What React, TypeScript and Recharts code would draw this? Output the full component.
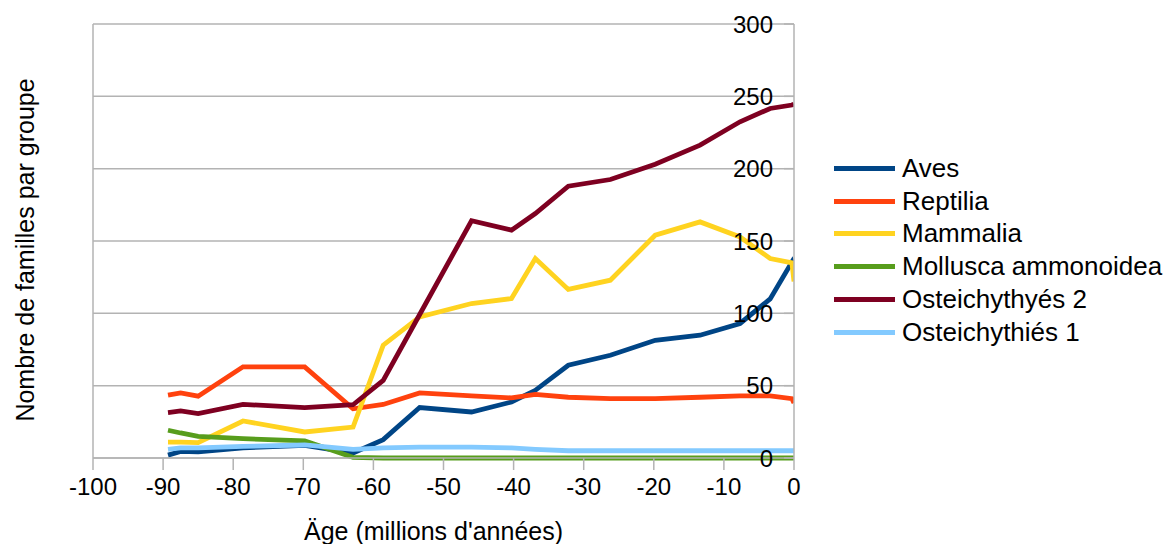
import {
  LineChart,
  Line,
  XAxis,
  YAxis,
  CartesianGrid,
  ReferenceLine,
  Label,
} from "recharts";

const FONT = "'Liberation Sans', Arial, sans-serif";

// âge en millions d'années (négatif = passé)
const ages = [
  -89.3, -87.5, -85.0, -78.6, -69.8, -62.9, -58.6, -53.4, -46.0, -40.3, -36.9,
  -32.2, -26.2, -19.8, -13.4, -7.7, -3.4, -0.3, 0,
];

const aves = [
  2, 4.6, 4.2, 7, 8.8, 3.5, 12.7, 34.9, 31.8, 38.7, 46.8, 64.1, 71, 81.4, 84.9,
  93, 110, 135.5, 131,
];
const reptilia = [
  43.4, 45, 42.7, 63, 63, 34, 37, 45, 43, 41.5, 44, 42, 41, 41, 42, 43, 43, 41,
  38,
];
const mammalia = [
  11, 11, 10.6, 25.6, 18, 21.4, 78, 97.5, 106.8, 110.2, 137.9, 116.5, 122.9, 154,
  163.2, 152.8, 137.9, 134.9, 122,
];
const mollusca = [
  19.2, 17.3, 15, 13.4, 11.8, 0.5, 0, 0, 0, 0, 0, 0, 0, 0, 0, 0, 0, 0, 0,
];
const osteichthyes2 = [
  31.4, 32.5, 30.7, 37.1, 34.8, 36.8, 53.7, 99.2, 164, 157.5, 169, 187.9, 192.5,
  203.1, 216.3, 232.4, 241.6, 244, 244.6,
];
const osteichthyes1 = [
  6, 7, 7, 8, 9, 6, 7, 7.5, 7.5, 7, 6, 5, 5, 5, 5, 5, 5, 5, 5,
];

const xTicks = [-100, -90, -80, -70, -60, -50, -40, -30, -20, -10, 0];
const yTicks = [0, 50, 100, 150, 200, 250, 300];

const series = [
  { key: "aves", name: "Aves", color: "#004586", values: aves },
  { key: "reptilia", name: "Reptilia", color: "#ff420e", values: reptilia },
  { key: "mammalia", name: "Mammalia", color: "#ffd320", values: mammalia },
  { key: "mollusca", name: "Mollusca ammonoidea", color: "#579d1c", values: mollusca },
  { key: "ost2", name: "Osteichythyés 2", color: "#7e0021", values: osteichthyes2 },
  { key: "ost1", name: "Osteichythiés 1", color: "#83caff", values: osteichthyes1 },
];

const data = ages.map((age, i) => {
  const row: Record<string, number> = { age };
  series.forEach((s) => {
    row[s.key] = s.values[i];
  });
  return row;
});

const tickStyle = { fontSize: 24, fill: "#000", fontFamily: FONT };

export default function App() {
  return (
    <div
      style={{
        position: "absolute",
        left: 0,
        top: 0,
        width: 1168,
        height: 544,
        background: "#fff",
        fontFamily: FONT,
      }}
    >
      <LineChart
        width={1168}
        height={544}
        data={data}
        margin={{ top: 24, right: 374, left: 93, bottom: 0 }}
      >
        <CartesianGrid vertical={false} stroke="#b3b3b3" strokeWidth={1.5} />
        <ReferenceLine x={-100} stroke="#b3b3b3" strokeWidth={1.5} />
        <XAxis
          type="number"
          dataKey="age"
          domain={[-100, 0]}
          ticks={xTicks}
          allowDataOverflow
          height={86}
          stroke="#b3b3b3"
          strokeWidth={1.5}
          tickSize={12}
          tickMargin={8}
          tick={tickStyle}
        >
          <Label
            value="Äge (millions d'années)"
            position="insideBottom"
            offset={4}
            dx={-10}
            style={{ fontSize: 25, fill: "#000", fontFamily: FONT }}
          />
        </XAxis>
        <YAxis
          orientation="right"
          mirror
          domain={[0, 300]}
          ticks={yTicks}
          stroke="#b3b3b3"
          strokeWidth={1.5}
          tickSize={10}
          tickMargin={11}
          tick={tickStyle}
        />
        {series.map((s) => (
          <Line
            key={s.key}
            type="linear"
            dataKey={s.key}
            name={s.name}
            stroke={s.color}
            strokeWidth={4.8}
            dot={false}
            activeDot={false}
            isAnimationActive={false}
          />
        ))}
      </LineChart>

      <div
        style={{
          position: "absolute",
          left: 25,
          top: 250,
          transform: "translate(-50%, -50%) rotate(-90deg)",
          whiteSpace: "nowrap",
          fontSize: 25,
          color: "#000",
        }}
      >
        Nombre de familles par groupe
      </div>

      <div style={{ position: "absolute", left: 834, top: 152 }}>
        {series.map((s) => (
          <div
            key={s.key}
            style={{
              display: "flex",
              alignItems: "center",
              height: 32.8,
              fontSize: 26,
              color: "#000",
              whiteSpace: "nowrap",
            }}
          >
            <span
              style={{
                display: "inline-block",
                width: 61,
                height: 5,
                background: s.color,
                marginRight: 7,
              }}
            />
            {s.name}
          </div>
        ))}
      </div>
    </div>
  );
}
